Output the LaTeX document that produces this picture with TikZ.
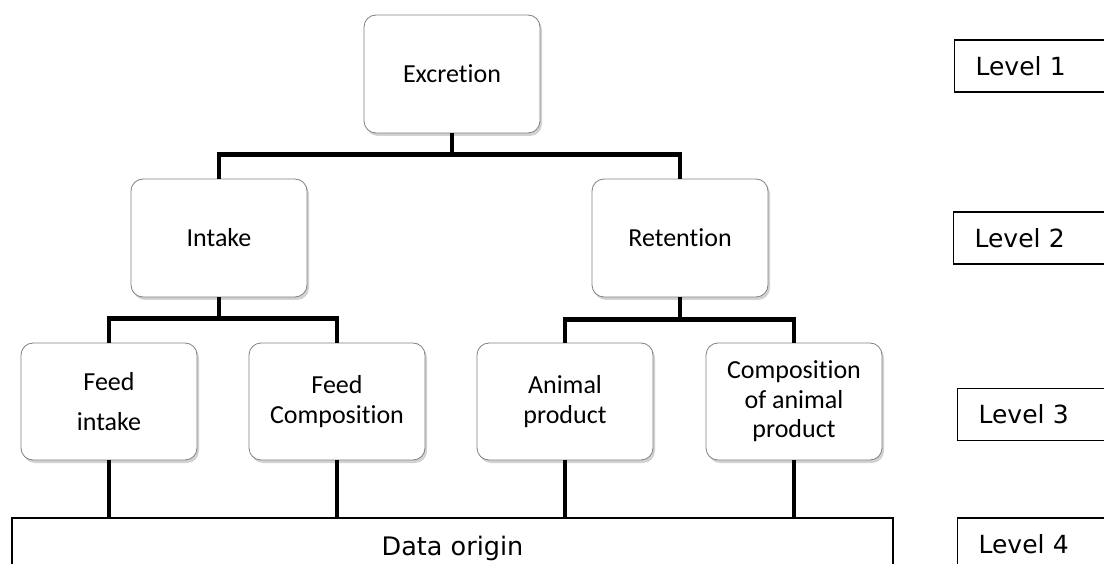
\documentclass[tikz,border=0pt]{standalone}
\usepackage{fontspec}
\setmainfont{Carlito}[Ligatures={NoCommon}]
\newfontfamily\verd{DejaVu Sans}
\usetikzlibrary{shadows}
\begin{document}
\begin{tikzpicture}[x=1pt,y=-1pt,
  rbox/.style={draw=black!50, line width=0.8pt, fill=white, rounded corners=12pt,
    minimum width=176pt, minimum height=118pt, align=center, inner sep=2pt,
    font=\fontsize{26}{29.5}\selectfont,
    drop shadow={shadow xshift=2pt, shadow yshift=-3pt, opacity=0.35}},
  conn/.style={line width=4.5pt, black},
  databox/.style={draw, line width=1.2pt, minimum width=881pt, minimum height=60pt,
    font=\verd\fontsize{25.5}{28}\selectfont},
  lvl/.style={draw, line width=1.2pt, minimum height=52pt, text width=160pt,
    inner xsep=21pt, align=left, anchor=west, font=\verd\fontsize{25}{28}\selectfont}]
\useasboundingbox (0,0) rectangle (1104,564);
\clip (0,0) rectangle (1104,564);
\fill[white] (0,0) rectangle (1104,564);

\node[rbox] (exc) at (452,74) {Excretion};
\node[rbox] (int) at (219,238) {Intake};
\node[rbox] (ret) at (680,238) {Retention};
\node[rbox, minimum height=117pt] (fi) at (109,401.5) {Feed\\[10pt]intake};
\node[rbox, minimum height=117pt] (fc) at (337,401.5) {Feed\\Composition};
\node[rbox, minimum height=117pt] (ap) at (565,401.5) {Animal\\product};
\node[rbox, minimum height=117pt] (cap) at (794,401.5) {Composition\\of animal\\product};

\node[databox] (data) at (452.5,548) {Data origin};

\draw[conn] (int.north) -- ++(0,-24) coordinate (b1) -| (ret.north);
\draw[conn] (exc.south) -- (exc.south |- b1);
\draw[conn] (fi.north) -- ++(0,-24) coordinate (b2) -| (fc.north);
\draw[conn] (int.south) -- (int.south |- b2);
\draw[conn] (ap.north) -- ++(0,-23) coordinate (b3) -| (cap.north);
\draw[conn] (ret.south) -- (ret.south |- b3);
\foreach \n in {fi,fc,ap,cap} \draw[conn] (\n.south) -- (\n.south |- data.north);

\node[lvl] (l1) at (954,66) {Level 1};
\node[lvl] (l2) at (953,238) {Level 2};
\node[lvl] (l3) at (957,414.5) {Level 3};
\node[lvl] (l4) at (957,544) {Level 4};
\end{tikzpicture}
\end{document}
